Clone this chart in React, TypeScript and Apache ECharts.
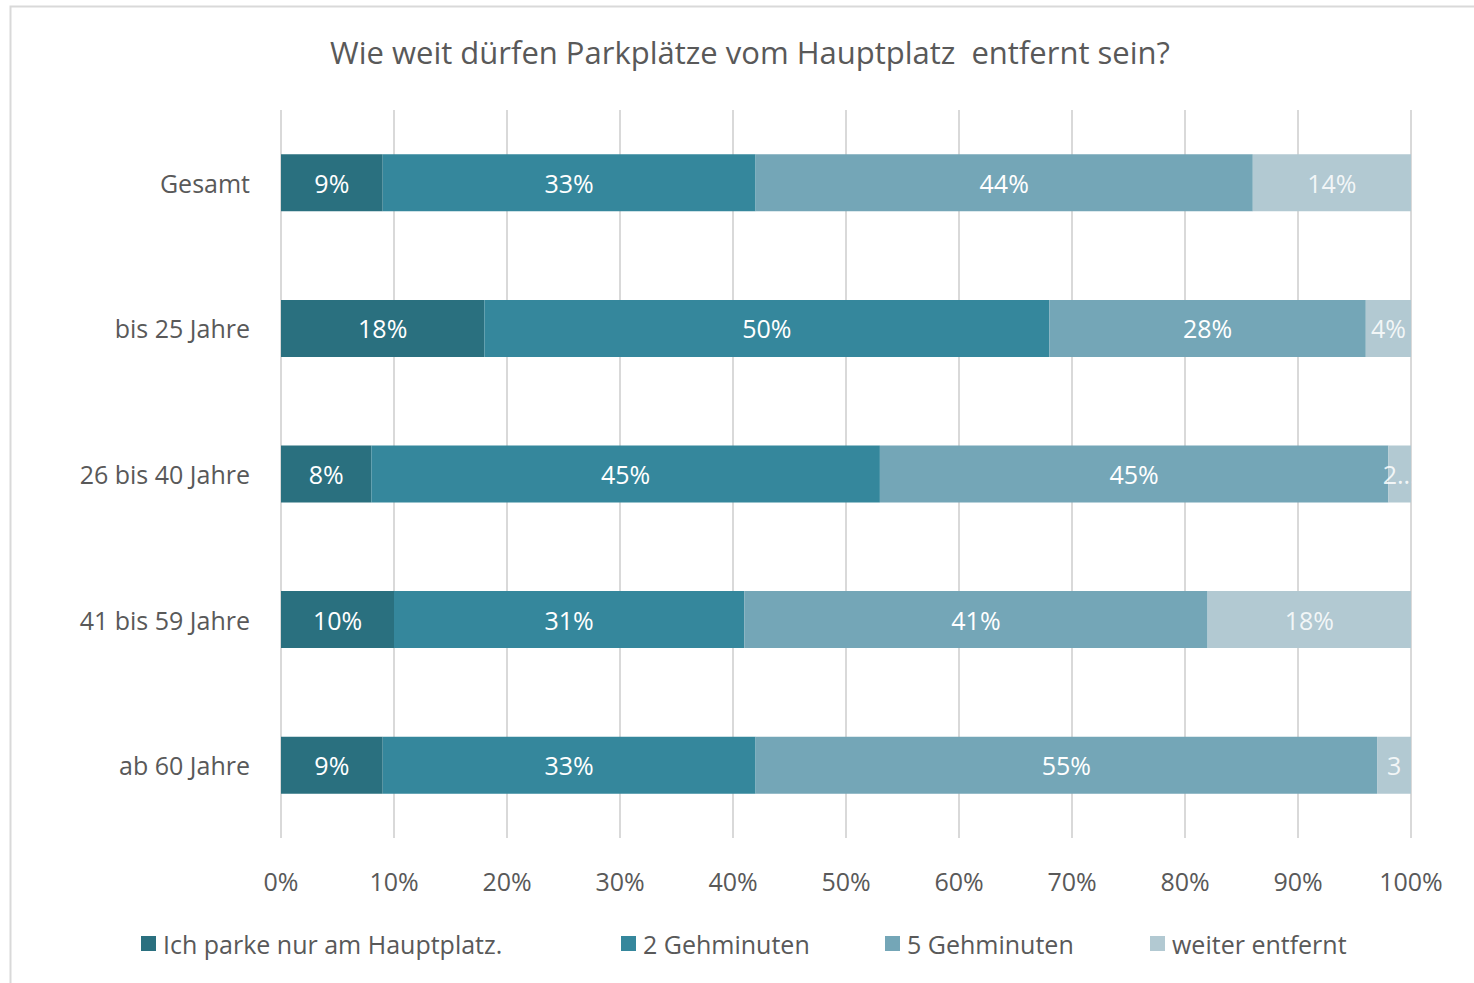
import React, { useEffect, useRef } from "react";
import * as echarts from "echarts";

const categories = ["Gesamt", "bis 25 Jahre", "26 bis 40 Jahre", "41 bis 59 Jahre", "ab 60 Jahre"];
const seriesNames = ["Ich parke nur am Hauptplatz.", "2 Gehminuten", "5 Gehminuten", "weiter entfernt"];
const nurHauptplatz = [9, 18, 8, 10, 9];
const zweiMin = [33, 50, 45, 31, 33];
const fuenfMin = [44, 28, 45, 41, 55];
const weiter = [14, 4, 2, 18, 3];
const colors = ["#2a707f", "#35879c", "#74a6b7", "#b2c9d2"];
const xTicks = [0, 10, 20, 30, 40, 50, 60, 70, 80, 90, 100];
const legendLefts = [136, 616, 880, 1145];

const FONT = "'Open Sans', 'Noto Sans', sans-serif";

export default function App() {
  const ref = useRef<HTMLDivElement>(null);
  useEffect(() => {
    document.body.style.margin = "0";
    if (!ref.current) return;
    const chart = echarts.init(ref.current, null, { renderer: "svg" });
    const all = [nurHauptplatz, zweiMin, fuenfMin, weiter];
    const fmt = (p: any) => {
      const v = p.value as number;
      if (v < 3) return v + "...";
      if (v < 4) return String(v);
      return v + "%";
    };
    chart.setOption({
      animation: false,
      backgroundColor: "#ffffff",
      textStyle: { fontFamily: FONT },
      title: {
        text: "Wie weit dürfen Parkplätze vom Hauptplatz  entfernt sein?",
        left: 745,
        textAlign: "center",
        top: 31,
        textStyle: { fontFamily: FONT, fontSize: 31, fontWeight: "normal", color: "#595959" },
      },
      graphic: [
        {
          type: "rect",
          shape: { x: 10.5, y: 6.5, width: 1480, height: 1000 },
          style: { fill: "none", stroke: "#d9d9d9", lineWidth: 2 },
          silent: true,
          z: -1,
        },
      ],
      legend: seriesNames.map((name, i) => ({
        bottom: 22,
        left: legendLefts[i],
        itemWidth: 15,
        itemHeight: 15,
        icon: "rect",
        textStyle: { fontFamily: FONT, fontSize: 25, color: "#595959", padding: [0, 0, 0, 2] },
        data: [name],
      })),
      grid: { left: 281, right: 63, top: 110, bottom: 145 },
      xAxis: {
        type: "value",
        min: 0,
        max: 100,
        interval: 10,
        axisLine: { show: false },
        axisTick: { show: false },
        splitLine: { show: true, lineStyle: { color: "#d9d9d9", width: 2 } },
        axisLabel: {
          formatter: (v: number) => (xTicks.includes(v) ? v + "%" : ""),
          fontFamily: FONT,
          fontSize: 25,
          color: "#595959",
          margin: 30,
        },
      },
      yAxis: {
        type: "category",
        data: categories,
        inverse: true,
        axisLine: { show: false },
        axisTick: { show: false },
        axisLabel: { fontFamily: FONT, fontSize: 25, color: "#595959", margin: 31 },
      },
      series: seriesNames.map((name, i) => ({
        name,
        type: "bar",
        stack: "total",
        barWidth: 57,
        itemStyle: { color: colors[i] },
        label: {
          show: true,
          position: "inside",
          formatter: fmt,
          fontFamily: FONT,
          fontSize: 25,
          color: "#ffffff",
          opacity: i === 3 ? 0.85 : 1,
        },
        data: all[i],
      })),
    });
    return () => chart.dispose();
  }, []);
  return <div ref={ref} style={{ width: 1474, height: 983 }} />;
}
